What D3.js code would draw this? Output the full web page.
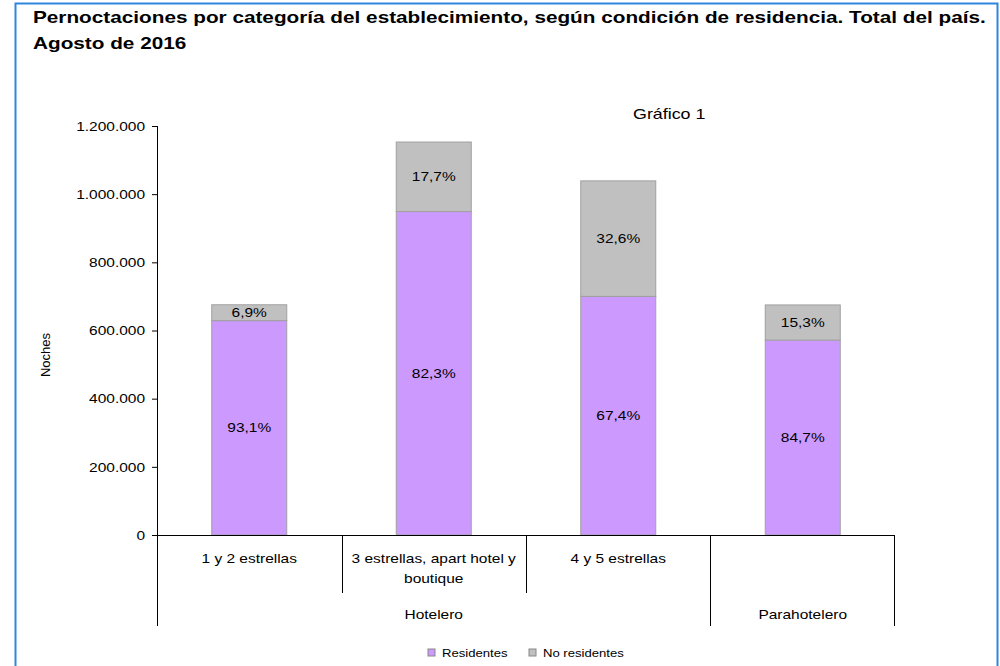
<!DOCTYPE html>
<html>
<head>
<meta charset="utf-8">
<script src="https://cdn.jsdelivr.net/npm/d3@7"></script>
<style>
  body { margin: 0; background: #fff; }
  svg { display: block; font-family: "Liberation Sans", Arial, sans-serif; }
  .axis path, .axis line { stroke: #000; }
  .axis text { font-size: 13px; fill: #000; }
</style>
</head>
<body>
<script>
'use-strict';

// data
let categories = ["1 y 2 estrellas", "3 estrellas, apart hotel y boutique", "4 y 5 estrellas", ""];
let categoryLines = [["1 y 2 estrellas"], ["3 estrellas, apart hotel y", "boutique"], ["4 y 5 estrellas"], []];
let residentes = [629000, 949000, 700000, 572000];
let noResidentes = [46500, 204000, 339000, 103000];
let pctResidentes = [93.1, 82.3, 67.4, 84.7];
let pctNoResidentes = [6.9, 17.7, 32.6, 15.3];
let groups = ["Hotelero", "Parahotelero"];
let groupSpan = [[0, 3], [3, 4]];
let seriesNames = ["Residentes", "No residentes"];
let yTicks = [0, 200000, 400000, 600000, 800000, 1000000, 1200000];

let colors = ["#cc99ff", "#c0c0c0"];

let locale = d3.formatLocale({ decimal: ",", thousands: ".", grouping: [3], currency: ["$", ""] });
let fmtNum = locale.format(",.0f");
let fmtPct = locale.format(".1f");

// the source image is stretched horizontally, text gets widened by this
let stretch = 1.19;

let W = 1000, H = 666;
let margin = { top: 126, left: 157, bottom: 131, right: 105 };
let width = W - margin.left - margin.right,
  height = H - margin.top - margin.bottom;

let svg = d3.select("body").append("svg")
  .attr("width", W)
  .attr("height", H);

// blue frame (open at bottom)
svg.append("path")
  .attr("d", "M15.5," + H + " V3.5 H997.5 V" + H)
  .attr("fill", "none")
  .attr("stroke", "#2e86de")
  .attr("stroke-width", 2);

// title
svg.append("text")
  .attr("class", "wide title")
  .attr("x", 33).attr("y", 23)
  .style("font-size", "17px").style("font-weight", "bold")
  .text("Pernoctaciones por categoría del establecimiento, según condición de residencia. Total del país.");
svg.append("text")
  .attr("class", "wide title")
  .attr("x", 33).attr("y", 49)
  .style("font-size", "17px").style("font-weight", "bold")
  .text("Agosto de 2016");

svg.append("text")
  .attr("class", "wide")
  .attr("x", 633).attr("y", 119)
  .style("font-size", "15px")
  .text("Gráfico 1");

let g = svg.append("g").attr("transform", "translate(" + margin.left + "," + margin.top + ")");

let x = d3.scaleBand()
  .domain(d3.range(categories.length))
  .range([0, width])
  .paddingInner(0)
  .paddingOuter(0);

let y = d3.scaleLinear()
  .domain([0, 1200000])
  .range([height, 0]);

// y axis
let yAxis = g.append("g")
  .attr("class", "axis")
  .call(d3.axisLeft(y).tickValues(yTicks).tickFormat(fmtNum).tickSize(5).tickSizeOuter(0).tickPadding(7));
yAxis.select(".domain").remove();
yAxis.selectAll("text").classed("wide", true);
g.append("line")
  .attr("x1", 0.5).attr("x2", 0.5)
  .attr("y1", 0).attr("y2", height + 91)
  .attr("stroke", "#000");

svg.append("text")
  .attr("transform", "translate(50,355) rotate(-90)")
  .attr("text-anchor", "middle")
  .style("font-size", "13px")
  .text("Noches");

// stacked bars
let stackData = categories.map((c, i) => ({ i: i, res: residentes[i], nores: noResidentes[i] }));
let stack = d3.stack().keys(["res", "nores"])(stackData);
let pcts = [pctResidentes, pctNoResidentes];
let barW = 75;

stack.forEach((layer, k) => {
  g.selectAll(".bar" + k)
    .data(layer)
    .enter()
    .append("rect")
    .attr("x", d => x(d.data.i) + x.bandwidth() / 2 - barW / 2)
    .attr("y", d => y(d[1]))
    .attr("width", barW)
    .attr("height", d => y(d[0]) - y(d[1]))
    .attr("fill", colors[k])
    .attr("stroke", "#a0a0a0")
    .attr("stroke-width", 1);

  g.selectAll(".lab" + k)
    .data(layer)
    .enter()
    .append("text")
    .attr("class", "wide")
    .attr("x", d => x(d.data.i) + x.bandwidth() / 2)
    .attr("y", d => (y(d[0]) + y(d[1])) / 2)
    .attr("dy", "0.35em")
    .attr("text-anchor", "middle")
    .style("font-size", "13px")
    .text(d => fmtPct(pcts[k][d.data.i]) + "%");
});

// x axis line
g.append("line")
  .attr("x1", 0).attr("x2", width)
  .attr("y1", height + 0.5).attr("y2", height + 0.5)
  .attr("stroke", "#000");

// category dividers
let inner = [1, 2];
g.selectAll(".catdiv")
  .data(inner)
  .enter()
  .append("line")
  .attr("x1", d => Math.round(x(d)) + 0.5).attr("x2", d => Math.round(x(d)) + 0.5)
  .attr("y1", height).attr("y2", height + 58)
  .attr("stroke", "#000");

// group dividers
g.selectAll(".grpdiv")
  .data([3, 4])
  .enter()
  .append("line")
  .attr("x1", d => Math.round(d === 4 ? width : x(d)) - 0.5).attr("x2", d => Math.round(d === 4 ? width : x(d)) - 0.5)
  .attr("y1", height).attr("y2", height + 91)
  .attr("stroke", "#000");

// category labels
categoryLines.forEach((lines, i) => {
  lines.forEach((t, j) => {
    g.append("text")
      .attr("class", "wide")
      .attr("x", x(i) + x.bandwidth() / 2)
      .attr("y", height + 28 + j * 20)
      .attr("text-anchor", "middle")
      .style("font-size", "13px")
      .text(t);
  });
});

// group labels
groups.forEach((t, i) => {
  let x0 = x(groupSpan[i][0]);
  let x1 = groupSpan[i][1] === categories.length ? width : x(groupSpan[i][1]);
  g.append("text")
    .attr("class", "wide")
    .attr("x", (x0 + x1) / 2)
    .attr("y", height + 84)
    .attr("text-anchor", "middle")
    .style("font-size", "13px")
    .text(t);
});

// legend
let legendX = [428, 529];
seriesNames.forEach((s, i) => {
  svg.append("rect")
    .attr("x", legendX[i]).attr("y", 649)
    .attr("width", 7).attr("height", 7)
    .attr("fill", colors[i])
    .attr("stroke", "#888");
  svg.append("text")
    .attr("class", "wide")
    .attr("x", legendX[i] + 14).attr("y", 657)
    .style("font-size", "11px")
    .text(s);
});

// widen texts to match the stretched look
svg.selectAll("text.wide").each(function () {
  let len = this.getComputedTextLength();
  let f = d3.select(this).classed("title") ? 1.22 : stretch;
  d3.select(this)
    .attr("textLength", len * f)
    .attr("lengthAdjust", "spacingAndGlyphs");
});
</script>
</body>
</html>
